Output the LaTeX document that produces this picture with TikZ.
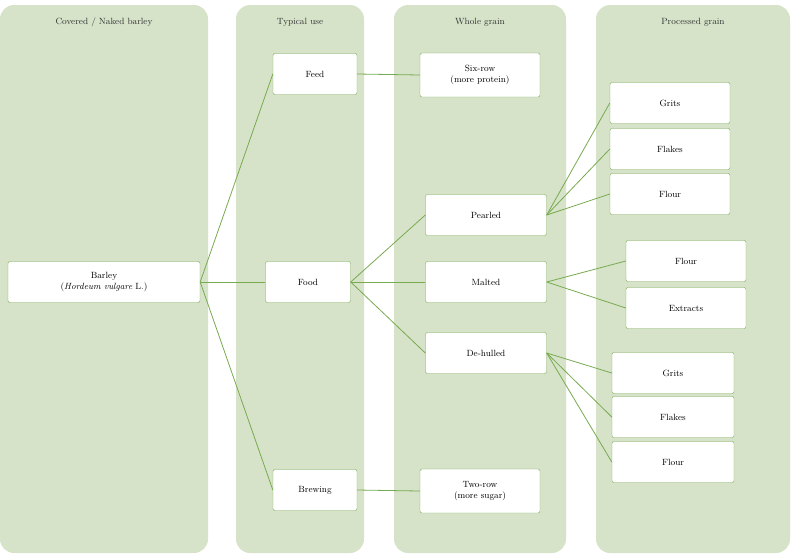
\documentclass[tikz,border=0pt]{standalone}
\usepackage{tikz}
\usetikzlibrary{positioning,calc}
\definecolor{colfill}{RGB}{214,227,201}
\definecolor{linegreen}{RGB}{120,170,80}
\tikzset{
  lane/.style={fill=colfill, draw=none, rounded corners=14pt},
  box/.style={draw=linegreen, fill=white, rounded corners=2pt, minimum height=41pt, align=center, font=\small, inner sep=2pt},
  head/.style={font=\small, text=black!80},
  link/.style={draw=linegreen, line width=0.8pt}
}
\begin{document}
\begin{tikzpicture}[x=1pt,y=-1pt]
    \useasboundingbox (0,0) rectangle (799,558);
    % Lanes
    \fill[lane] (0,5) rectangle (208,553);
    \fill[lane] (236,5) rectangle (364,553);
    \fill[lane] (394,5) rectangle (566,553);
    \fill[lane] (596,5) rectangle (790,553);
    \node[head] at (104,22) {Covered / Naked barley};
    \node[head] at (300,22) {Typical use};
    \node[head] at (480,22) {Whole grain};
    \node[head] at (693,22) {Processed grain};

    % Boxes
    \node[box, minimum width=192pt] (barley) at (104,282) {Barley\\(\textit{Hordeum vulgare} L.)};
    \node[box, minimum width=84pt] (feed) at (315,74) {Feed};
    \node[box, minimum width=85pt] (food) at (308,282) {Food};
    \node[box, minimum width=84pt] (brewing) at (315,490) {Brewing};
    \node[box, minimum width=120pt, minimum height=44pt] (sixrow) at (480,75) {Six-row\\(more protein)};
    \node[box, minimum width=121pt] (pearled) at (486,215) {Pearled};
    \node[box, minimum width=121pt] (malted) at (486,282) {Malted};
    \node[box, minimum width=121pt] (dehulled) at (486,353) {De-hulled};
    \node[box, minimum width=120pt, minimum height=44pt] (tworow) at (480,491) {Two-row\\(more sugar)};
    \node[box, minimum width=120pt] (grits1) at (670,103) {Grits};
    \node[box, minimum width=120pt] (flakes1) at (670,149) {Flakes};
    \node[box, minimum width=120pt] (flour1) at (670,194) {Flour};
    \node[box, minimum width=120pt] (flour2) at (686,261) {Flour};
    \node[box, minimum width=120pt] (extracts) at (686,308) {Extracts};
    \node[box, minimum width=122pt] (grits2) at (673,373) {Grits};
    \node[box, minimum width=122pt] (flakes2) at (673,417) {Flakes};
    \node[box, minimum width=122pt] (flour3) at (673,462) {Flour};

    % Links
    \foreach \t in {feed,food,brewing}
        \draw[link] (barley.east) -- (\t.west);
    \draw[link] (feed.east) -- (sixrow.west);
    \draw[link] (brewing.east) -- (tworow.west);
    \foreach \t in {pearled,malted,dehulled}
        \draw[link] (food.east) -- (\t.west);
    \foreach \t in {grits1,flakes1,flour1}
        \draw[link] (pearled.east) -- (\t.west);
    \foreach \t in {flour2,extracts}
        \draw[link] (malted.east) -- (\t.west);
    \foreach \t in {grits2,flakes2,flour3}
        \draw[link] (dehulled.east) -- (\t.west);
\end{tikzpicture}
\end{document}
